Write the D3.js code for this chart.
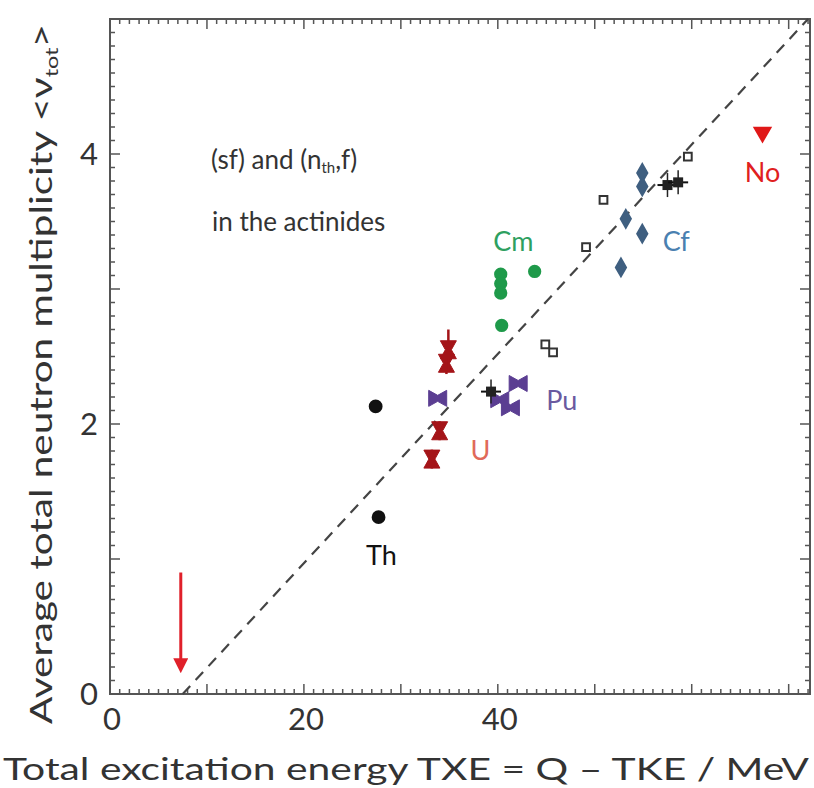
<!DOCTYPE html>
<html>
<head>
<meta charset="utf-8">
<script src="https://cdn.jsdelivr.net/npm/d3@7"></script>
<style>
  body { margin: 0; background: #fff; }
  svg { display: block; font-family: Lato, "Open Sans", sans-serif; }
</style>
</head>
<body>
<div id="chart"></div>
<script>
// data: [TXE, nu_tot]
const thorium   = [[27.4, 2.13], [27.7, 1.31]];
const uranium   = [[33.2, 1.74], [34.0, 1.95], [34.7, 2.45], [34.9, 2.55]];
const uraniumErr = [0.07, 0.07, 0.08, 0.15];
const plutonium = [[33.8, 2.19], [40.2, 2.18], [41.3, 2.12], [42.1, 2.30]];
const curium    = [[40.3, 3.11], [40.3, 3.04], [40.3, 2.97], [43.8, 3.13], [40.4, 2.73]];
const californium = [[52.7, 3.16], [54.9, 3.41], [53.2, 3.52], [54.9, 3.76], [54.9, 3.86]];
const otherFilled = [[39.3, 2.24], [57.5, 3.77], [58.6, 3.79]];
const otherOpen   = [[44.9, 2.59], [45.7, 2.53], [50.9, 3.66], [49.1, 3.31], [59.6, 3.98]];
const nobelium  = [[67.3, 4.16]];

const elementLabels = ["Th", "U", "Pu", "Cm", "Cf", "No"];
const labelPos = [[28.0, 1.02], [38.2, 1.80], [46.6, 2.17], [41.6, 3.35], [58.4, 3.35], [67.3, 3.86]];

const xTicks = [0, 20, 40];
const yTicks = [0, 2, 4];
const fitLine = [[7.5, 0], [72, 5.0]];
const arrowX = 7.3, arrowFrom = 0.9, arrowTo = 0.15;

const W = 814, H = 788;
const svg = d3.select("#chart").append("svg").attr("width", W).attr("height", H);

const x = d3.scaleLinear().domain([0, 72.2]).range([110, 810]);
const y = d3.scaleLinear().domain([0, 5]).range([694, 19]);

// frame with inward ticks on all four sides
const frame = svg.append("g").attr("stroke", "#555").attr("fill", "none");
frame.append("rect")
  .attr("x", x(0)).attr("y", y(5))
  .attr("width", x(72.2) - x(0)).attr("height", y(0) - y(5))
  .attr("stroke-width", 2);

const xMinor = d3.range(0, 72.2, 1);
const yMinor = d3.range(0, 5.001, 0.1);

function tickLen(major) { return major ? 10 : 5; }

frame.selectAll(".xb").data(xMinor).enter().append("line")
  .attr("x1", d => x(d)).attr("x2", d => x(d))
  .attr("y1", y(0)).attr("y2", d => y(0) - tickLen(d % 10 === 0))
  .attr("stroke-width", 1.5);
frame.selectAll(".xt").data(xMinor).enter().append("line")
  .attr("x1", d => x(d)).attr("x2", d => x(d))
  .attr("y1", y(5)).attr("y2", d => y(5) + tickLen(d % 10 === 0))
  .attr("stroke-width", 1.5);
frame.selectAll(".yl").data(yMinor).enter().append("line")
  .attr("y1", d => y(d)).attr("y2", d => y(d))
  .attr("x1", x(0)).attr("x2", (d, i) => x(0) + tickLen(i % 10 === 0))
  .attr("stroke-width", 1.5);
frame.selectAll(".yr").data(yMinor).enter().append("line")
  .attr("y1", d => y(d)).attr("y2", d => y(d))
  .attr("x1", x(72.2)).attr("x2", (d, i) => x(72.2) - tickLen(i % 10 === 0))
  .attr("stroke-width", 1.5);

// tick labels
svg.selectAll(".xl").data(xTicks).enter().append("text")
  .attr("x", d => x(d) + 2).attr("y", 730)
  .attr("text-anchor", "middle").attr("font-size", 31).attr("fill", "#333")
  .text(d => d);
svg.selectAll(".yl").data(yTicks).enter().append("text")
  .attr("x", 98).attr("y", d => y(d) + 11)
  .attr("text-anchor", "end").attr("font-size", 31).attr("fill", "#333")
  .text(d => d);

// axis titles
svg.append("text")
  .attr("x", 3).attr("y", 780)
  .attr("font-size", 31).attr("fill", "#333")
  .attr("textLength", 806).attr("lengthAdjust", "spacingAndGlyphs")
  .text("Total excitation energy TXE = Q \u2013 TKE / MeV");

const yTitle = svg.append("text")
  .attr("transform", "translate(52,724) rotate(-90)")
  .attr("font-size", 31).attr("fill", "#333")
  .attr("textLength", 700).attr("lengthAdjust", "spacingAndGlyphs");
yTitle.append("tspan").text("Average total  neutron multiplicity <\u03bd");
yTitle.append("tspan").attr("font-size", 18).attr("dy", 6).text("tot");
yTitle.append("tspan").attr("dy", -6).text(">");

// fit line
svg.append("line")
  .attr("x1", x(fitLine[0][0])).attr("y1", y(fitLine[0][1]))
  .attr("x2", x(fitLine[1][0])).attr("y2", y(fitLine[1][1]))
  .attr("stroke", "#444").attr("stroke-width", 2.2).attr("stroke-dasharray", "11,8");

// red arrow
svg.append("defs").append("marker")
  .attr("id", "ah").attr("viewBox", "0 0 10 10").attr("refX", 5).attr("refY", 5)
  .attr("markerWidth", 5).attr("markerHeight", 5).attr("orient", "auto")
  .append("path").attr("d", "M0,0 L10,5 L0,10 Z").attr("fill", "#e0202a");
svg.append("line")
  .attr("x1", x(arrowX)).attr("x2", x(arrowX))
  .attr("y1", y(arrowFrom)).attr("y2", y(arrowTo) - 8)
  .attr("stroke", "#e0202a").attr("stroke-width", 3)
  .attr("marker-end", "url(#ah)");

// text note
const note = svg.append("g").attr("font-size", 26).attr("fill", "#333");
const l1 = note.append("text").attr("x", 211).attr("y", 169);
l1.append("tspan").text("(sf) and (n");
l1.append("tspan").attr("font-size", 15).attr("dy", 4).text("th");
l1.append("tspan").attr("dy", -4).text(",f)");
note.append("text").attr("x", 212).attr("y", 231).text("in the actinides");

// markers
const sym = (type, size) => d3.symbol().type(type).size(size)();

function points(data, color, type, size, fill, rot) {
  svg.append("g").selectAll("path").data(data).enter().append("path")
    .attr("transform", d => `translate(${x(d[0])},${y(d[1])}) rotate(${rot || 0})`)
    .attr("d", sym(type, size))
    .attr("fill", fill ? color : "#fff")
    .attr("stroke", color).attr("stroke-width", 2);
}

points(thorium, "#111", d3.symbolCircle, 110, true);
points(curium, "#1f9a4a", d3.symbolCircle, 100, true);
points(californium, "#3f5f80", d3.symbolDiamond, 90, true);
points(otherOpen, "#333", d3.symbolSquare, 60, false);
points(nobelium, "#e01818", d3.symbolTriangle, 110, true, 180);

// error-bar style markers (bowties)
function bowties(data, errs, color) {
  const g = svg.append("g").attr("fill", color).attr("stroke", color);
  data.forEach((d, i) => {
    const cx = x(d[0]), cy = y(d[1]);
    const e = y(d[1] - errs[i]) - cy;
    g.append("line").attr("x1", cx).attr("x2", cx).attr("y1", cy - e).attr("y2", cy + e)
      .attr("stroke-width", 2.5);
    g.append("path")
      .attr("d", `M${cx - 8},${cy - 9} L${cx + 8},${cy - 9} L${cx + 3},${cy} L${cx + 8},${cy + 9} L${cx - 8},${cy + 9} L${cx - 3},${cy} Z`)
      .attr("stroke-width", 1);
  });
}
bowties(uranium, uraniumErr, "#a41418");

function hbowties(data, color) {
  const g = svg.append("g").attr("fill", color).attr("stroke", color);
  data.forEach(d => {
    const cx = x(d[0]), cy = y(d[1]);
    g.append("path")
      .attr("d", `M${cx - 9},${cy - 8} L${cx - 9},${cy + 8} L${cx},${cy + 3} L${cx + 9},${cy + 8} L${cx + 9},${cy - 8} L${cx},${cy - 3} Z`)
      .attr("stroke-width", 1);
  });
}
hbowties(plutonium, "#5b3e92");

// filled black with error bars
const ob = svg.append("g");
otherFilled.forEach(d => {
  const cx = x(d[0]), cy = y(d[1]);
  ob.append("line").attr("x1", cx - 10).attr("x2", cx + 10).attr("y1", cy).attr("y2", cy)
    .attr("stroke", "#111").attr("stroke-width", 2);
  ob.append("line").attr("x1", cx).attr("x2", cx).attr("y1", cy - 12).attr("y2", cy + 12)
    .attr("stroke", "#222").attr("stroke-width", 1.5);
  ob.append("rect").attr("x", cx - 5).attr("y", cy - 5).attr("width", 10).attr("height", 10)
    .attr("fill", "#222");
});

// element labels
const labelColors = ["#111", "#e06a5a", "#6a5aa0", "#2ea060", "#4a80b0", "#e02020"];
svg.append("g").selectAll("text").data(elementLabels).enter().append("text")
  .attr("x", (d, i) => x(labelPos[i][0])).attr("y", (d, i) => y(labelPos[i][1]) + 9)
  .attr("text-anchor", "middle").attr("font-size", 27)
  .attr("fill", (d, i) => labelColors[i])
  .text(d => d);
</script>
</body>
</html>
